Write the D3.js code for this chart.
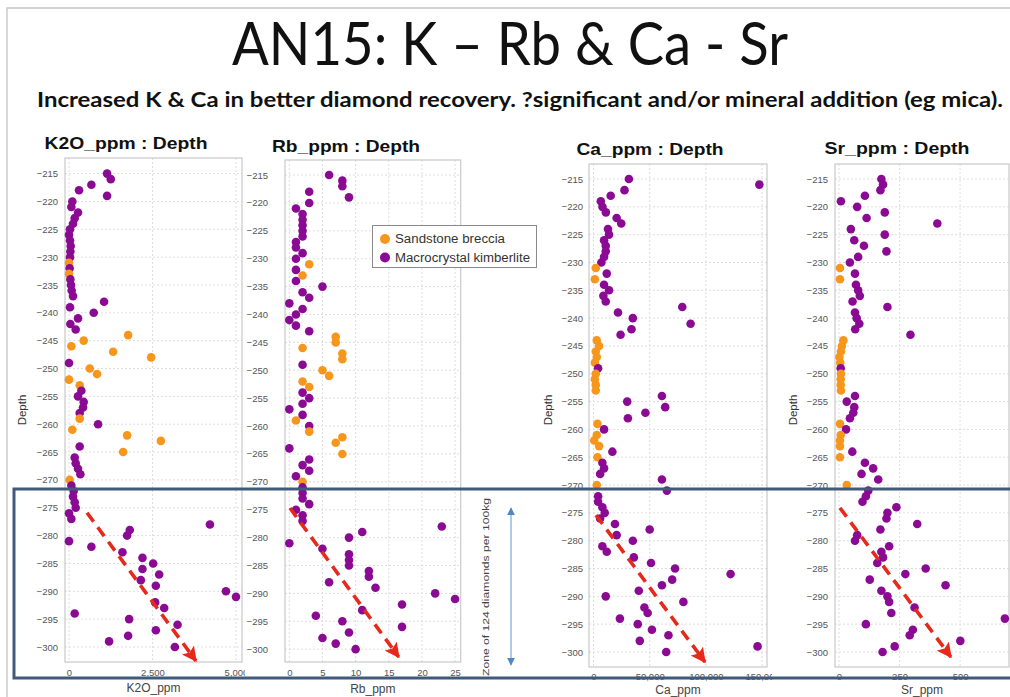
<!DOCTYPE html>
<html><head><meta charset="utf-8">
<script src="https://cdn.jsdelivr.net/npm/d3@7"></script>
<style>body{margin:0;background:#fff}svg{display:block}</style>
</head><body>
<svg id="c" width="1010" height="697"></svg>
<script>
// ---------- DATA ----------
const depths = [-215,-216,-217,-218,-219,-220,-221,-222,-223,-224,-225,-226,-227,-228,-229,-230,
-231,-232,-233,-234,-235,-236,-237,-238,-239,-240,-241,-242,-243,-244,-245,-246,-247,-248,-249,-250,
-251,-252,-253,-254,-255,-256,-257,-258,-259,-260,-261,-262,-263,-264,-265,-266,-267,-268,-269,-270,
-271,-272,-273,-274,-275,-276,-277,-278,-279,-280,-281,-282,-283,-284,-285,-286,-287,-288,-289,-290,
-291,-292,-293,-294,-295,-296,-297,-298,-299,-300];
// S = Sandstone breccia, M = Macrocrystal kimberlite
const lithology = ["M","M","M","M","M","M","M","M","M","M","M","M","M","M","M","M",
"S","M","S","M","M","M","M","M","M","M","M","M","M","S","S","S","S","S","M","S",
"S","S","S","M","M","M","M","M","S","M","S","S","S","M","S","M","M","M","M","S",
"M","M","M","M","M","M","M","M","M","M","M","M","M","M","M","M","M","M","M","M",
"M","M","M","M","M","M","M","M","M","M"];
const k2o = [1140,1250,670,300,1140,100,70,270,170,120,30,0,30,50,40,30,
0,20,0,40,60,80,120,1050,30,740,270,40,200,1770,440,70,1320,2460,0,620,
840,0,320,370,270,440,420,320,320,870,100,1740,2750,320,1620,170,200,270,340,20,
70,140,120,170,200,0,70,4220,1820,1740,0,670,1600,2200,2520,2200,2700,2150,2600,4700,
5000,2580,2850,170,1800,3250,2600,1770,1200,3170];
const rb = [6,8,8,3,9,3,1,2,2,2,2,2,1,1,2,1,
3,1,2,1,5,2,3,0,2,1,0,1,3,7,7,2,8,8,2,5,
6,2,3,2,3,2,0,2,1,3,3,8,7,0,8,3,2,3,1,2,
2,2,2,3,1,2,2,23,11,9,0,5,9,9,9,12,12,6,13,22,
25,17,11,4,8,17,9,5,7,10];
const ca = [31500,147600,27600,15300,6500,8000,11000,20600,24700,12900,13800,9400,10900,10900,9400,7000,
2000,11800,1200,9400,13800,8800,10900,79000,21800,35000,86400,33800,24100,2900,5000,2000,2900,1200,4100,2000,
1200,2000,2000,60900,30000,63800,46200,30600,3500,9400,2900,600,5000,16800,3500,7900,9400,5900,60900,2900,
65300,4100,4100,7900,10000,5900,19100,50000,20600,35000,7900,11800,35900,51200,72600,122000,70000,60900,40300,10900,
80000,45300,48200,23500,39400,52000,66700,41200,146000,64700];
const sr = [175,182,171,107,8,75,189,114,406,49,189,63,103,196,79,45,
4,66,4,70,79,86,56,200,66,73,84,67,295,18,12,8,2,5,7,8,
7,7,8,66,32,63,59,45,4,29,7,4,4,55,4,107,141,93,162,32,
121,111,97,237,200,196,323,171,75,66,207,175,182,158,358,274,127,440,175,200,
207,312,216,685,111,305,292,501,230,180];

const depthTicks = [-215,-220,-225,-230,-235,-240,-245,-250,-255,-260,-265,-270,-275,-280,-285,-290,-295,-300];
const k2oTicks = [0,2500,5000];
const rbTicks = [0,5,10,15,20,25];
const caTicks = [0,50000,100000,150000];
const srTicks = [0,250,500,750];
const seriesNames = ["Sandstone breccia","Macrocrystal kimberlite"];
const seriesKeys = ["S","M"];
const seriesColors = ["#f7961c","#8a0a94"];
// trend arrows (value, depth) start -> end
const trendK2O = [[540,-275.9],[3800,-302.5]];
const trendRb  = [[0.1,-274.7],[16.5,-301.4]];
const trendCa  = [[2200,-275.4],[99200,-301.8]];
const trendSr  = [[4,-274.1],[462,-300.9]];

// ---------- LAYOUT ----------
const F = "'Liberation Sans', Arial, sans-serif";
const svg = d3.select("#c");
svg.append("rect").attr("width",1010).attr("height",697).attr("fill","#fff");
svg.append("path").attr("d","M7,697V8H1010").attr("fill","none").attr("stroke","#c4c4c4").attr("stroke-width",1.3);

svg.append("text").attr("x",232).attr("y",65).attr("textLength",556).attr("lengthAdjust","spacingAndGlyphs")
  .attr("font-family","Lato, 'Open Sans', sans-serif").attr("font-size",60).attr("fill","#111")
  .text("AN15: K \u2013 Rb & Ca - Sr");
svg.append("text").attr("x",37).attr("y",107).attr("textLength",966).attr("lengthAdjust","spacingAndGlyphs")
  .attr("font-family","Lato, 'Open Sans', sans-serif").attr("font-weight","bold").attr("font-size",21).attr("fill","#111")
  .text("Increased K & Ca in better diamond recovery. ?significant and/or mineral addition (eg mica).");

const defs = svg.append("defs");
defs.append("marker").attr("id","redHead").attr("markerUnits","userSpaceOnUse")
  .attr("viewBox","0 0 10 10").attr("refX",9).attr("refY",5).attr("markerWidth",15).attr("markerHeight",15)
  .attr("orient","auto").append("path").attr("d","M0,0L10,5L0,10L2,5Z").attr("fill","#e52a1c");
defs.append("marker").attr("id","blueHead").attr("markerUnits","userSpaceOnUse")
  .attr("viewBox","0 0 10 10").attr("refX",9).attr("refY",5).attr("markerWidth",8).attr("markerHeight",8)
  .attr("orient","auto-start-reverse").append("path").attr("d","M0,0L10,5L0,10Z").attr("fill","#4f86c6");

const panels = [
 {values:k2o, ticks:k2oTicks, fmt:d3.format(","), title:"K2O_ppm : Depth", xTitle:"K2O_ppm",
  box:{l:65,t:158,r:242,b:662}, xDom:[-120,5180], yDom:[-302.7,-212.2], bg:null,
  tXY:[126,149], tLen:163, depthX:26, yPad:7, xPad:7, xTitleY:692, trend:trendK2O},
 {values:rb, ticks:rbTicks, fmt:d3.format(","), title:"Rb_ppm : Depth", xTitle:"Rb_ppm",
  box:{l:285,t:160,r:460.7,b:662}, xDom:[-0.65,25.85], yDom:[-302.3,-212.3], bg:[245,538],
  tXY:[346,152], tLen:148, depthX:null, yPad:17, xPad:7, xTitleY:693, trend:trendRb, legend:true},
 {values:ca, ticks:caTicks, fmt:d3.format(","), title:"Ca_ppm : Depth", xTitle:"Ca_ppm",
  box:{l:589,t:164,r:767,b:667}, xDom:[-4000,154400], yDom:[-302.7,-212.3], bg:[539,772],
  tXY:[650,155], tLen:147, depthX:552, yPad:6, xPad:6.5, xTitleY:693.5, trend:trendCa},
 {values:sr, ticks:srTicks, fmt:d3.format(","), title:"Sr_ppm : Depth", xTitle:"Sr_ppm",
  box:{l:835,t:164,r:1009,b:667}, xDom:[-16.5,702], yDom:[-302.7,-212.3], bg:[772,1010],
  tXY:[897,154], tLen:145, depthX:797, yPad:7, xPad:6.5, xTitleY:693.5, trend:trendSr}
];

panels.forEach(p=>{
  const g = svg.append("g");
  const b = p.box;
  if(p.bg) g.append("rect").attr("x",p.bg[0]).attr("y",120).attr("width",p.bg[1]-p.bg[0]).attr("height",577).attr("fill","#fff");
  const x = d3.scaleLinear().domain(p.xDom).range([b.l,b.r]);
  const y = d3.scaleLinear().domain(p.yDom).range([b.b,b.t]);
  const xt = p.ticks.filter(v=>v>=p.xDom[0]&&v<=p.xDom[1]);
  g.append("rect").attr("x",b.l).attr("y",b.t).attr("width",b.r-b.l).attr("height",b.b-b.t).attr("fill","#fff");
  // grid
  g.append("g").selectAll("line").data(depthTicks).join("line")
   .attr("x1",b.l).attr("x2",b.r).attr("y1",d=>y(d)).attr("y2",d=>y(d))
   .attr("stroke","#dedede").attr("stroke-dasharray","2,2");
  g.append("g").selectAll("line").data(xt).join("line")
   .attr("y1",b.t).attr("y2",b.b).attr("x1",d=>x(d)).attr("x2",d=>x(d))
   .attr("stroke","#dedede").attr("stroke-dasharray","2,2");
  g.append("rect").attr("x",b.l).attr("y",b.t).attr("width",b.r-b.l).attr("height",b.b-b.t)
   .attr("fill","none").attr("stroke","#c9c9c9").attr("stroke-width",1.2);
  // axes
  const ax = g.append("g").attr("transform",`translate(0,${b.b})`)
    .call(d3.axisBottom(x).tickValues(xt).tickFormat(p.fmt).tickSize(0).tickPadding(p.xPad));
  const ay = g.append("g").attr("transform",`translate(${b.l},0)`)
    .call(d3.axisLeft(y).tickValues(depthTicks).tickFormat(d3.format("d")).tickSize(0).tickPadding(p.yPad));
  [ax,ay].forEach(a=>{a.select(".domain").remove();
    a.selectAll("text").attr("font-family",F).attr("font-size",9.5).attr("fill","#555");});
  // titles
  g.append("text").attr("x",p.tXY[0]).attr("y",p.tXY[1]).attr("text-anchor","middle")
   .attr("textLength",p.tLen).attr("lengthAdjust","spacingAndGlyphs")
   .attr("font-family",F).attr("font-weight","bold").attr("font-size",16.5).attr("fill","#111").text(p.title);
  g.append("text").attr("x",(b.l+b.r)/2).attr("y",p.xTitleY).attr("text-anchor","middle")
   .attr("font-family",F).attr("font-size",12).attr("fill","#444").text(p.xTitle);
  if(p.depthX!==null) g.append("text").attr("transform",`translate(${p.depthX},410) rotate(-90)`)
   .attr("text-anchor","middle").attr("font-family",F).attr("font-size",11.5).attr("fill","#333").text("Depth");
  // points
  const pts = depths.map((d,i)=>({d, v:p.values[i], s:lithology[i]}));
  g.append("g").selectAll("circle").data(pts).join("circle")
   .attr("cx",d=>x(d.v)).attr("cy",d=>y(d.d)).attr("r",4.3)
   .attr("fill",d=>seriesColors[seriesKeys.indexOf(d.s)]);
  // trend arrow
  g.append("line").attr("x1",x(p.trend[0][0])).attr("y1",y(p.trend[0][1]))
   .attr("x2",x(p.trend[1][0])).attr("y2",y(p.trend[1][1]))
   .attr("stroke","#e52a1c").attr("stroke-width",3.6).attr("stroke-dasharray","11,7")
   .attr("marker-end","url(#redHead)");
  if(p.legend){
    const lg = g.append("g");
    lg.append("rect").attr("x",372.5).attr("y",225.5).attr("width",164).attr("height",42)
      .attr("fill","#fff").attr("stroke","#8a8a8a").attr("stroke-width",1);
    const lens=[110,135];
    seriesNames.forEach((n,i)=>{
      lg.append("circle").attr("cx",385).attr("cy",239+i*18.5).attr("r",5).attr("fill",seriesColors[i]);
      lg.append("text").attr("x",395).attr("y",243+i*18.5).attr("textLength",lens[i]).attr("lengthAdjust","spacingAndGlyphs")
        .attr("font-family",F).attr("font-size",12).attr("fill","#333").text(n);
    });
  }
});

// zone annotation
svg.append("rect").attr("x",14).attr("y",489).attr("width",1010).attr("height",189)
  .attr("fill","none").attr("stroke","#405a7a").attr("stroke-width",3);
svg.append("text").attr("transform","translate(489,587) rotate(-90)").attr("text-anchor","middle")
  .attr("textLength",178).attr("lengthAdjust","spacingAndGlyphs")
  .attr("font-family",F).attr("font-size",9.5).attr("fill","#444").text("Zone of 124 diamonds per 100kg");
svg.append("line").attr("x1",511).attr("x2",511).attr("y1",508).attr("y2",665)
  .attr("stroke","#7aa6d8").attr("stroke-width",1.2)
  .attr("marker-start","url(#blueHead)").attr("marker-end","url(#blueHead)");
</script>
</body></html>
